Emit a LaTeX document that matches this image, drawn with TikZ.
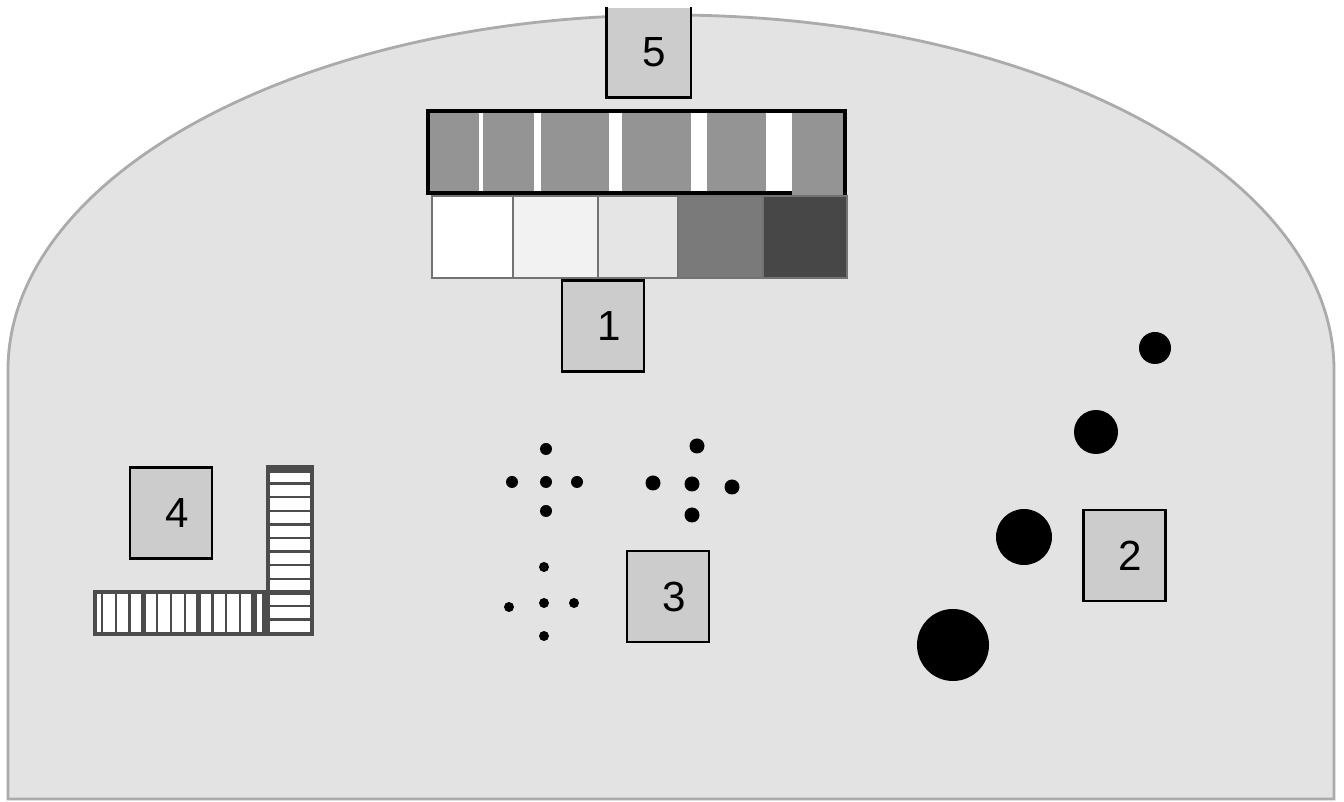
\documentclass[tikz,border=0pt]{standalone}
\usepackage{fontspec}
\setmainfont{Liberation Sans}
\usetikzlibrary{positioning}

\begin{document}
\begin{tikzpicture}[
    numbox/.style={draw=black, line width=0.8pt, fill=black!20, minimum width=0.82cm,
      minimum height=0.91cm, inner sep=0pt, font=\fontsize{12}{14}\selectfont,
      execute at begin node=\hspace*{1.2mm}},
    rung/.style={draw=black!70, line width=0.7pt},
    bigrung/.style={draw=black!70, line width=1.6pt}]
  \fill[white] (0,0) rectangle (13.44,8.02);
  \useasboundingbox (0,0) rectangle (13.44,8.02);
  \filldraw[fill=black!11, draw=black!33, line width=0.8pt]
    (0.08,0.03) -- (0.08,4.32) arc[start angle=180, end angle=0, x radius=6.63cm, y radius=3.55cm]
    -- (13.34,0.03) -- cycle;
  % bar under box 5
  \fill[black!42] (4.28,6.07) rectangle (8.45,6.91);
  \foreach \a/\b in {4.79/4.83, 5.34/5.41, 6.09/6.22, 6.91/7.07, 7.66/7.92}
    \fill[white] (\a,6.09) rectangle (\b,6.90);
  \draw[line width=1.1pt] (7.92,6.09) -- (4.28,6.09) -- (4.28,6.91) -- (8.45,6.91) -- (8.45,6.07);
  % grey scale above box 1
  \foreach \a/\b/\c in {4.32/5.13/white, 5.13/5.98/black!5, 5.98/6.78/black!10,
                        6.78/7.63/black!52, 7.63/8.47/black!72}
    \filldraw[fill=\c, draw=black!55, line width=0.6pt] (\a,5.24) rectangle (\b,6.06);
  \node[numbox, draw=none, minimum height=0.88cm] (n5) at (6.485,7.50) {5};
  \draw[line width=0.8pt] (n5.north west) -- (n5.south west) -- (n5.south east) -- (n5.north east);
  \node[numbox] (n1) at (6.03,4.76) {1};
  \node[numbox] (n2) at (11.245,2.465) {2};
  \node[numbox] (n3) at (6.68,2.055) {3};
  \node[numbox] (n4) at (1.71,2.89) {4};
  % dots of 2
  \fill (11.55,4.54) circle (0.16);
  \fill (10.96,3.70) circle (0.22);
  \fill (10.24,2.65) circle (0.28);
  \fill (9.53,1.57) circle (0.36);
  % crosses of 3
  \foreach \p in {(5.46,3.20), (5.46,3.53), (5.46,2.91), (5.12,3.20), (5.77,3.20)}
    \fill \p circle (0.06);
  \foreach \p in {(6.92,3.18), (6.97,3.56), (6.92,2.87), (6.53,3.19), (7.32,3.15)}
    \fill \p circle (0.075);
  \foreach \p in {(5.44,1.99), (5.44,2.35), (5.44,1.66), (5.09,1.95), (5.74,1.99)}
    \fill \p circle (0.05);
  % ladders of 4
  \filldraw[fill=white, draw=black!70, line width=1pt] (0.95,1.68) rectangle (2.64,2.10);
  \foreach \k in {0,...,11}
    \draw[rung] ({1.02+0.138*\k},1.68) -- ({1.02+0.138*\k},2.10);
  \foreach \k in {3,7,11}
    \draw[bigrung] ({1.02+0.138*\k},1.68) -- ({1.02+0.138*\k},2.10);
  \filldraw[fill=white, draw=black!70, line width=1.2pt] (2.68,1.68) rectangle (3.12,3.35);
  \foreach \k in {1,...,11}
    \draw[rung] (2.68,{3.32-0.136*\k}) -- (3.12,{3.32-0.136*\k});
  \draw[bigrung] (2.68,3.32) -- (3.12,3.32);
  \draw[bigrung] (2.68,2.096) -- (3.12,2.096);
\end{tikzpicture}
\end{document}
